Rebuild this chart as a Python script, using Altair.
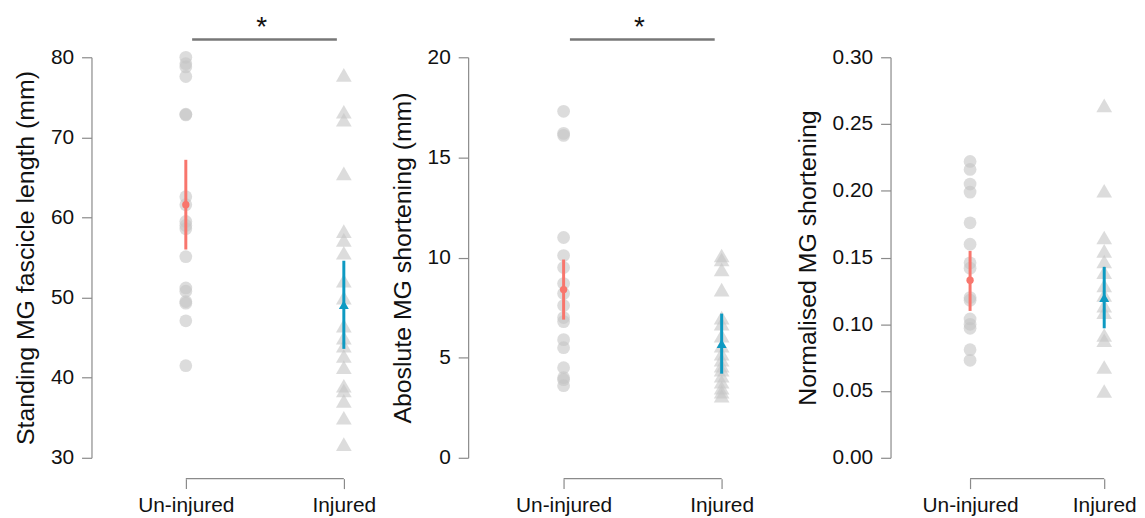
import altair as alt
import pandas as pd

groups = ["Un-injured", "Injured"]

fascicle_uninjured = [80.0, 79.2, 78.8, 77.6, 72.9, 72.8, 62.6, 61.6, 59.5, 59.0, 58.6, 55.1, 51.2, 50.8, 49.5, 49.3, 47.1, 41.5]
fascicle_injured = [77.8, 73.2, 72.2, 65.5, 58.3, 57.2, 55.6, 52.1, 50.0, 46.5, 45.0, 44.0, 42.7, 41.3, 39.0, 38.4, 37.1, 35.0, 31.7]
abs_uninjured = [17.3, 16.2, 16.1, 11.0, 10.1, 9.5, 8.7, 8.2, 7.6, 7.0, 6.8, 5.9, 5.5, 4.5, 4.0, 3.9, 3.6]
abs_injured = [10.1, 9.9, 9.4, 8.4, 7.0, 6.7, 6.1, 5.6, 5.2, 4.9, 4.6, 4.4, 4.1, 3.8, 3.5, 3.3, 3.1]
norm_uninjured = [0.222, 0.216, 0.205, 0.199, 0.176, 0.160, 0.146, 0.142, 0.120, 0.118, 0.104, 0.100, 0.097, 0.081, 0.073]
norm_injured = [0.264, 0.200, 0.165, 0.155, 0.147, 0.139, 0.129, 0.122, 0.114, 0.109, 0.092, 0.088, 0.068, 0.050]

# mean and 95% CI per group: [Un-injured, Injured]
fascicle_mean = [61.6, 49.1]
fascicle_lo = [56.0, 43.6]
fascicle_hi = [67.2, 54.6]
abs_mean = [8.4, 5.7]
abs_lo = [6.9, 4.2]
abs_hi = [9.9, 7.2]
norm_mean = [0.133, 0.120]
norm_lo = [0.110, 0.097]
norm_hi = [0.155, 0.143]

titles = ["Standing MG fascicle length (mm)", "Aboslute MG shortening (mm)", "Normalised MG shortening"]

FONT = "Liberation Sans"
GREY_PT = "#c4c4c4"
SALMON = "#F8766D"
TEAL = "#0E9AC2"
AXIS_GREY = "#8a8a8a"
H = 403
LAB = 21
TIT = 25


def panel(uninj, inj, means, los, his, title, ydom, yticks, yfmt, xdom, width, sig):
    pts_u = pd.DataFrame({"x": [0] * len(uninj), "v": uninj})
    pts_i = pd.DataFrame({"x": [1] * len(inj), "v": inj})
    summ = pd.DataFrame({"x": [0, 1], "g": groups, "m": means, "lo": los, "hi": his})

    xs = alt.Scale(domain=xdom, nice=False, zero=False)
    ys = alt.Scale(domain=ydom, nice=False, zero=False)
    xax = alt.Axis(values=[0, 1], labelExpr="datum.value == 0 ? 'Un-injured' : 'Injured'",
                   title=None, domain=False, grid=False, offset=21, tickSize=10,
                   tickColor=AXIS_GREY, tickWidth=1.2, labelFontSize=LAB, labelFont=FONT,
                   labelColor="#111", labelPadding=6)
    yax = alt.Axis(values=yticks, format=yfmt, title=title, grid=False, domainColor=AXIS_GREY,
                   domainWidth=1.2, tickColor=AXIS_GREY, tickWidth=1.2, tickSize=10,
                   labelFontSize=LAB, labelFont=FONT, labelColor="#111", labelPadding=8,
                   titleFontSize=TIT, titleFont=FONT, titleFontWeight="normal",
                   titleColor="#111", titlePadding=12)

    base_x = alt.X("x:Q", scale=xs, axis=xax)

    c_u = alt.Chart(pts_u).mark_point(filled=True, shape="circle", size=165,
                                      color=GREY_PT, opacity=0.6).encode(
        x=base_x, y=alt.Y("v:Q", scale=ys, axis=yax))
    c_i = alt.Chart(pts_i).mark_point(filled=True, shape="triangle-up", size=250,
                                      color=GREY_PT, opacity=0.6).encode(
        x="x:Q", y="v:Q")

    col = alt.Color("g:N", scale=alt.Scale(domain=groups, range=[SALMON, TEAL]), legend=None)
    ci = alt.Chart(summ).mark_rule(strokeWidth=3).encode(x="x:Q", y="lo:Q", y2="hi:Q", color=col)
    m_u = alt.Chart(summ[summ.x == 0]).mark_point(filled=True, shape="circle", size=55,
                                                   opacity=1).encode(x="x:Q", y="m:Q", color=col)
    m_i = alt.Chart(summ[summ.x == 1]).mark_point(filled=True, shape="triangle-up", size=100,
                                                   opacity=1).encode(x="x:Q", y="m:Q", color=col)

    br = pd.DataFrame({"a": [0], "b": [1]})
    bracket = alt.Chart(br).mark_rule(color=AXIS_GREY, strokeWidth=1.2).encode(
        x="a:Q", x2="b:Q", y=alt.value(H + 21))

    layers = [c_u, c_i, ci, m_u, m_i, bracket]
    if sig:
        sb = pd.DataFrame({"a": [0.04], "b": [0.956], "t": [0.48], "s": ["*"]})
        layers.append(alt.Chart(sb).mark_rule(color="#777", strokeWidth=2.5).encode(
            x="a:Q", x2="b:Q", y=alt.value(-18)))
        layers.append(alt.Chart(sb).mark_text(fontSize=28, font=FONT, color="#111",
                                              baseline="alphabetic").encode(
            x="t:Q", y=alt.value(-21), text="s:N"))
    return alt.layer(*layers).properties(width=width, height=H)


p1 = panel(fascicle_uninjured, fascicle_injured, fascicle_mean, fascicle_lo, fascicle_hi,
           titles[0], [30, 80], [30, 40, 50, 60, 70, 80], "d", [-0.597, 1.227], 290, True)
p2 = panel(abs_uninjured, abs_injured, abs_mean, abs_lo, abs_hi,
           titles[1], [0, 20], [0, 5, 10, 15, 20], "d", [-0.604, 1.402], 319, True)
p3 = panel(norm_uninjured, norm_injured, norm_mean, norm_lo, norm_hi,
           titles[2], [0, 0.30], [0, 0.05, 0.10, 0.15, 0.20, 0.25, 0.30], ".2f",
           [-0.593, 1.237], 247, False)

chart = alt.hconcat(p1, p2, p3, spacing=10).configure_view(stroke=None).configure_axisY(
    titleFontSize=TIT).properties(
    padding={"left": 5, "top": 5, "right": 0, "bottom": 0}, background="white")

chart.save("out.html", embed_options={"renderer": "svg", "actions": False})
